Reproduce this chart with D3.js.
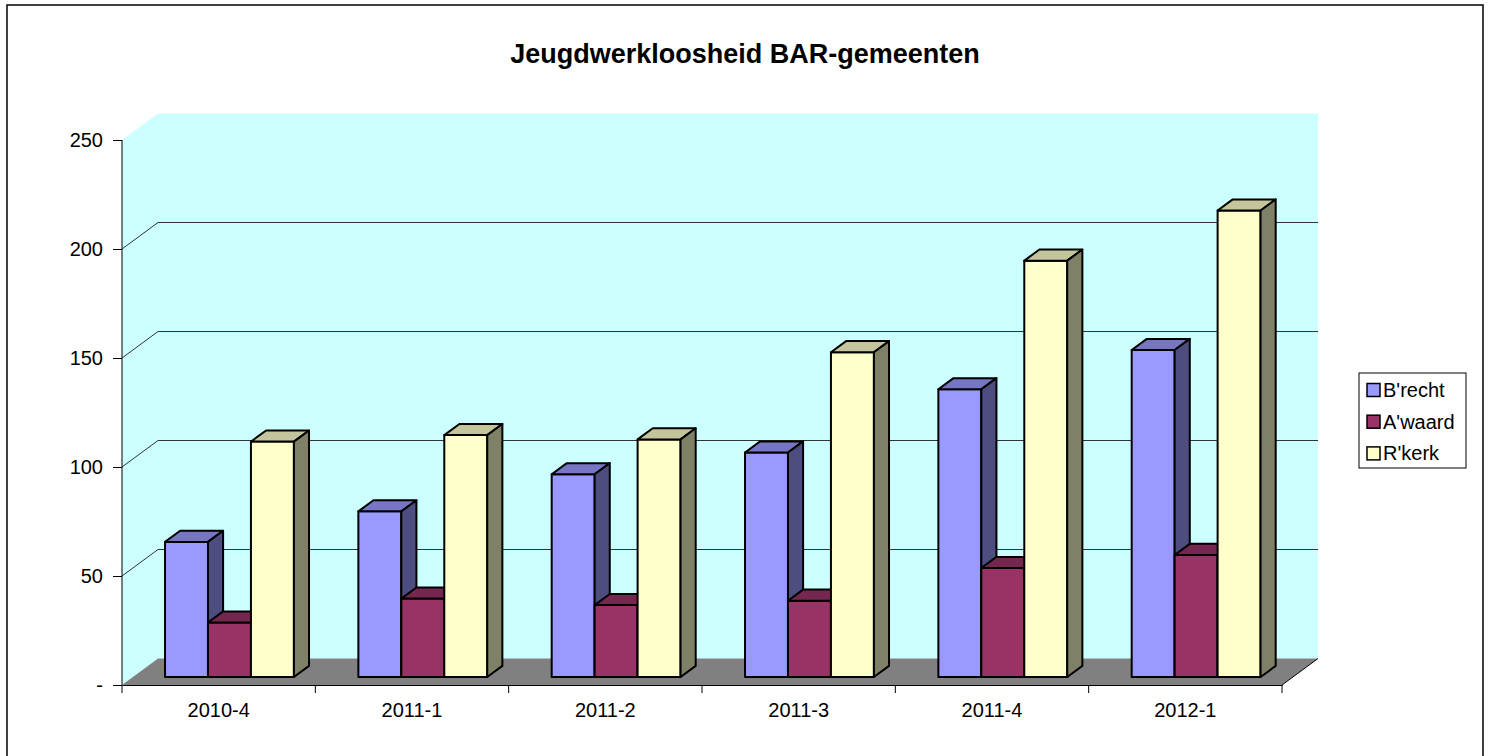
<!DOCTYPE html>
<html>
<head>
<meta charset="utf-8">
<script src="https://cdn.jsdelivr.net/npm/d3@7"></script>
<style>
    body { margin: 0; background: #fff; }
    svg text { font-family: Arial, "Liberation Sans", sans-serif; fill: #000; }
</style>
</head>
<body>
<div id="chart"></div>
<script>

// data
var categories = ["2010-4", "2011-1", "2011-2", "2011-3", "2011-4", "2012-1"]
var seriesNames = ["B'recht", "A'waard", "R'kerk"]
var brecht = [62, 76, 93, 103, 132, 150]
var awaard = [25, 36, 33, 35, 50, 56]
var rkerk = [108, 111, 109, 149, 191, 214]
var yTicks = [0, 50, 100, 150, 200, 250]

var seriesValues = [brecht, awaard, rkerk]
var seriesColors = ["#9999ff", "#993366", "#ffffcc"]

var width = 1489, height = 756

// front plane of the plot, the back wall sits DEPTH_X right / DEPTH_Y up
var LEFT = 122, RIGHT = 1282, BOTTOM = 685, TOP = 140
var DEPTH_X = 36, DEPTH_Y = 26.5
var BAR_FRONT = 0.3, BAR_BACK = 0.72   // bar depth as fraction of floor depth

var svg = d3.select("#chart").append("svg")
    .attr("width", width)
    .attr("height", height)

// outer chart border
svg.append("rect")
    .attr("x", 7).attr("y", 5)
    .attr("width", 1476).attr("height", 770)
    .attr("fill", "#fff")
    .attr("stroke", "#000")
    .attr("stroke-width", 1.5)

var y = d3.scaleLinear().domain([0, 250]).range([BOTTOM, TOP])
var x0 = d3.scaleBand().domain(categories).range([LEFT, RIGHT]).paddingInner(0).paddingOuter(0)
var x1 = d3.scaleBand().domain(seriesNames).range([0, x0.bandwidth()]).paddingInner(0).paddingOuter(0.75)

function pt(p) { return p[0] + "," + p[1] }
function poly(pts) { return pts.map(pt).join(" ") }

// walls
var wall = "#ccffff"
svg.append("polygon")
    .attr("points", poly([[LEFT, y(250)], [LEFT + DEPTH_X, y(250) - DEPTH_Y],
        [LEFT + DEPTH_X, y(0) - DEPTH_Y], [LEFT, y(0)]]))
    .attr("fill", wall)
svg.append("rect")
    .attr("x", LEFT + DEPTH_X)
    .attr("y", y(250) - DEPTH_Y)
    .attr("width", RIGHT - LEFT)
    .attr("height", y(0) - y(250))
    .attr("fill", wall)

// gridlines: diagonal on the side wall + straight on the back wall
var grid = svg.append("g").attr("stroke", "#333").attr("stroke-width", 1).attr("fill", "none")
grid.selectAll(".gside")
    .data(yTicks.filter(function(d) { return d > 0 && d < 250 }))
  .enter().append("path")
    .attr("d", function(d) {
        return "M" + LEFT + "," + y(d) + "L" + (LEFT + DEPTH_X) + "," + (y(d) - DEPTH_Y) +
            "H" + (RIGHT + DEPTH_X)
    })

// floor
svg.append("polygon")
    .attr("points", poly([[LEFT, y(0)], [RIGHT, y(0)],
        [RIGHT + DEPTH_X, y(0) - DEPTH_Y], [LEFT + DEPTH_X, y(0) - DEPTH_Y]]))
    .attr("fill", "#808080")
svg.append("line")
    .attr("x1", RIGHT).attr("y1", y(0))
    .attr("x2", RIGHT + DEPTH_X).attr("y2", y(0) - DEPTH_Y)
    .attr("stroke", "#000").attr("stroke-width", 1)

// bars, drawn left to right so that each one covers the side of its neighbour
var bars = []
categories.forEach(function(c, ci) {
    seriesNames.forEach(function(s, si) {
        bars.push({ cat: c, series: s, value: seriesValues[si][ci], color: seriesColors[si] })
    })
})

var fx = BAR_FRONT * DEPTH_X, fy = BAR_FRONT * DEPTH_Y
var dx = (BAR_BACK - BAR_FRONT) * DEPTH_X, dy = (BAR_BACK - BAR_FRONT) * DEPTH_Y
var bw = x1.bandwidth()

var bar = svg.append("g").selectAll(".bar")
    .data(bars)
  .enter().append("g")
    .attr("class", "bar")
    .attr("stroke", "#000")
    .attr("stroke-width", 2)
    .attr("stroke-linejoin", "round")

bar.append("polygon")   // front
    .attr("points", function(d) {
        var x = x0(d.cat) + x1(d.series) + fx, top = y(d.value) - fy, base = y(0) - fy
        return poly([[x, top], [x + bw, top], [x + bw, base], [x, base]])
    })
    .attr("fill", function(d) { return d.color })
bar.append("polygon")   // top
    .attr("points", function(d) {
        var x = x0(d.cat) + x1(d.series) + fx, top = y(d.value) - fy
        return poly([[x, top], [x + dx, top - dy], [x + bw + dx, top - dy], [x + bw, top]])
    })
    .attr("fill", function(d) {
        var c = d3.rgb(d.color)
        return d3.rgb(c.r * 0.77, c.g * 0.77, c.b * 0.77)
    })
bar.append("polygon")   // side
    .attr("points", function(d) {
        var x = x0(d.cat) + x1(d.series) + fx + bw, top = y(d.value) - fy, base = y(0) - fy
        return poly([[x, top], [x + dx, top - dy], [x + dx, base - dy], [x, base]])
    })
    .attr("fill", function(d) {
        var c = d3.rgb(d.color)
        return d3.rgb(c.r * 0.5, c.g * 0.5, c.b * 0.5)
    })

// value axis
var yAxis = svg.append("g")
    .attr("transform", "translate(" + LEFT + ",0)")
    .call(d3.axisLeft(y)
        .tickValues(yTicks)
        .tickSize(9)
        .tickPadding(10)
        .tickFormat(function(d) { return d === 0 ? "-" : d }))
yAxis.select(".domain").attr("stroke", "#000").attr("d", "M0," + y(250) + "V" + y(0))
yAxis.selectAll("text").attr("font-size", 20).attr("font-family", null)
yAxis.attr("font-family", null)

// category axis, ticks sit between categories
var xAxis = svg.append("g")
    .attr("transform", "translate(0," + BOTTOM + ")")
    .call(d3.axisBottom(x0).tickSize(0).tickPadding(18))
xAxis.select(".domain").attr("stroke", "#000")
xAxis.selectAll("text").attr("font-size", 20)
xAxis.attr("font-family", null)
xAxis.selectAll(".sep")
    .data(categories.map(function(c) { return x0(c) }).concat([RIGHT]))
  .enter().append("line")
    .attr("x1", function(d) { return d }).attr("x2", function(d) { return d })
    .attr("y1", 0).attr("y2", 8)
    .attr("stroke", "#000")

// title
svg.append("text")
    .attr("x", 745)
    .attr("y", 63)
    .attr("text-anchor", "middle")
    .attr("font-size", 27)
    .attr("font-weight", "bold")
    .text("Jeugdwerkloosheid BAR-gemeenten")

// legend
var legend = svg.append("g").attr("transform", "translate(1359,373)")
legend.append("rect")
    .attr("width", 107).attr("height", 95)
    .attr("fill", "#fff").attr("stroke", "#000").attr("stroke-width", 1)
var item = legend.selectAll(".item")
    .data(seriesNames)
  .enter().append("g")
    .attr("transform", function(d, i) { return "translate(8," + (17 + i * 31.7) + ")" })
item.append("rect")
    .attr("x", 0).attr("y", -6.5)
    .attr("width", 13).attr("height", 13)
    .attr("fill", function(d, i) { return seriesColors[i] })
    .attr("stroke", "#000").attr("stroke-width", 1.5)
item.append("text")
    .attr("x", 16)
    .attr("dy", "0.35em")
    .attr("font-size", 20)
    .text(function(d) { return d })

</script>
</body>
</html>
